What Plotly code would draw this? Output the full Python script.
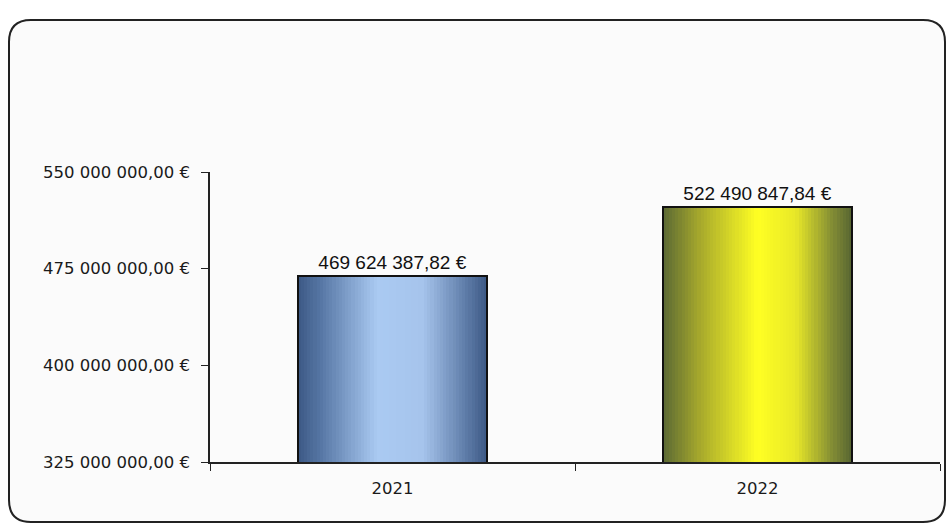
import plotly.graph_objects as go

# ---- data ----
categories = ["2021", "2022"]
values = [469624387.82, 522490847.84]
y_ticks = [325000000, 400000000, 475000000, 550000000]


def fmt_eur(v):
    return f"{v:,.2f}".replace(",", " ").replace(".", ",") + " €"


y_tick_labels = [fmt_eur(v) for v in y_ticks]
value_labels = [fmt_eur(v) for v in values]

# ---- styling ----
W, H = 950, 525
ML, MR, MT, MB = 210, 10, 172, 63
PW, PH = W - ML - MR, H - MT - MB

blue_stops = [(0.0, (60, 88, 132)), (0.12, (86, 118, 164)), (0.42, (170, 202, 242)),
              (0.66, (166, 196, 236)), (0.88, (96, 126, 170)), (1.0, (60, 88, 132))]
yellow_stops = [(0.0, (90, 104, 52)), (0.2, (168, 170, 44)), (0.5, (255, 255, 35)),
                (0.7, (232, 232, 40)), (0.9, (128, 138, 52)), (1.0, (86, 100, 50))]


def grad(stops, t):
    for (t0, c0), (t1, c1) in zip(stops[:-1], stops[1:]):
        if t0 <= t <= t1:
            f = (t - t0) / (t1 - t0) if t1 > t0 else 0
            c = [round(a + (b - a) * f) for a, b in zip(c0, c1)]
            return f"rgb({c[0]},{c[1]},{c[2]})"
    c = stops[-1][1]
    return f"rgb({c[0]},{c[1]},{c[2]})"


bar_w = 0.52
N = 60
fig = go.Figure()
for i in range(N):
    t = (i + 0.5) / N
    fig.add_trace(go.Bar(
        x=categories, y=values,
        width=bar_w / N * 1.05, offset=-bar_w / 2 + i * bar_w / N,
        marker=dict(color=[grad(blue_stops, t), grad(yellow_stops, t)], line=dict(width=0)),
        showlegend=False, hoverinfo="skip",
    ))

fig.add_trace(go.Bar(
    x=categories, y=values, width=bar_w, offset=-bar_w / 2,
    marker=dict(color="rgba(0,0,0,0)", line=dict(color="#111", width=2)),
    text=value_labels, texttemplate="%{text}", textposition="outside",
    textfont=dict(family="Liberation Sans, Arial", size=19, color="#111"),
    cliponaxis=False, showlegend=False,
))


def px_x(p):
    return (p - ML) / PW


def px_y(p):
    return (H - MB - p) / PH


# rounded frame
x0, x1, y0, y1, r = 9, 945, 20, 522, 22
path = (f"M {px_x(x0 + r)},{px_y(y0)} L {px_x(x1 - r)},{px_y(y0)} "
        f"Q {px_x(x1)},{px_y(y0)} {px_x(x1)},{px_y(y0 + r)} "
        f"L {px_x(x1)},{px_y(y1 - r)} Q {px_x(x1)},{px_y(y1)} {px_x(x1 - r)},{px_y(y1)} "
        f"L {px_x(x0 + r)},{px_y(y1)} Q {px_x(x0)},{px_y(y1)} {px_x(x0)},{px_y(y1 - r)} "
        f"L {px_x(x0)},{px_y(y0 + r)} Q {px_x(x0)},{px_y(y0)} {px_x(x0 + r)},{px_y(y0)} Z")
fig.add_shape(type="path", xref="paper", yref="paper", path=path,
              line=dict(color="#222", width=2), fillcolor="#fbfbfb", layer="below")

fig.update_layout(
    width=W, height=H,
    margin=dict(l=ML, r=MR, t=MT, b=MB),
    paper_bgcolor="white", plot_bgcolor="rgba(0,0,0,0)",
    barmode="overlay", bargap=0,
    showlegend=False,
)
fig.update_yaxes(
    range=[325000000, 550000000], tickvals=y_ticks, ticktext=y_tick_labels,
    showgrid=False, zeroline=False,
    showline=True, linecolor="#222", linewidth=1.5,
    ticks="outside", ticklen=7, tickcolor="#222", ticklabelstandoff=8,
    tickfont=dict(family="DejaVu Sans", size=16.5, color="#1a1a1a"),
)
fig.update_xaxes(
    type="category", range=[-0.5, 1.5],
    showline=True, linecolor="#222", linewidth=1.5,
    ticks="outside", tickson="boundaries", ticklen=7, tickcolor="#222",
    ticklabelstandoff=10,
    tickfont=dict(family="DejaVu Sans", size=16.5, color="#1a1a1a"),
    showgrid=False,
)

fig.write_html("out.html", config={"displayModeBar": False},
               post_script="document.body.style.margin='0px';")
